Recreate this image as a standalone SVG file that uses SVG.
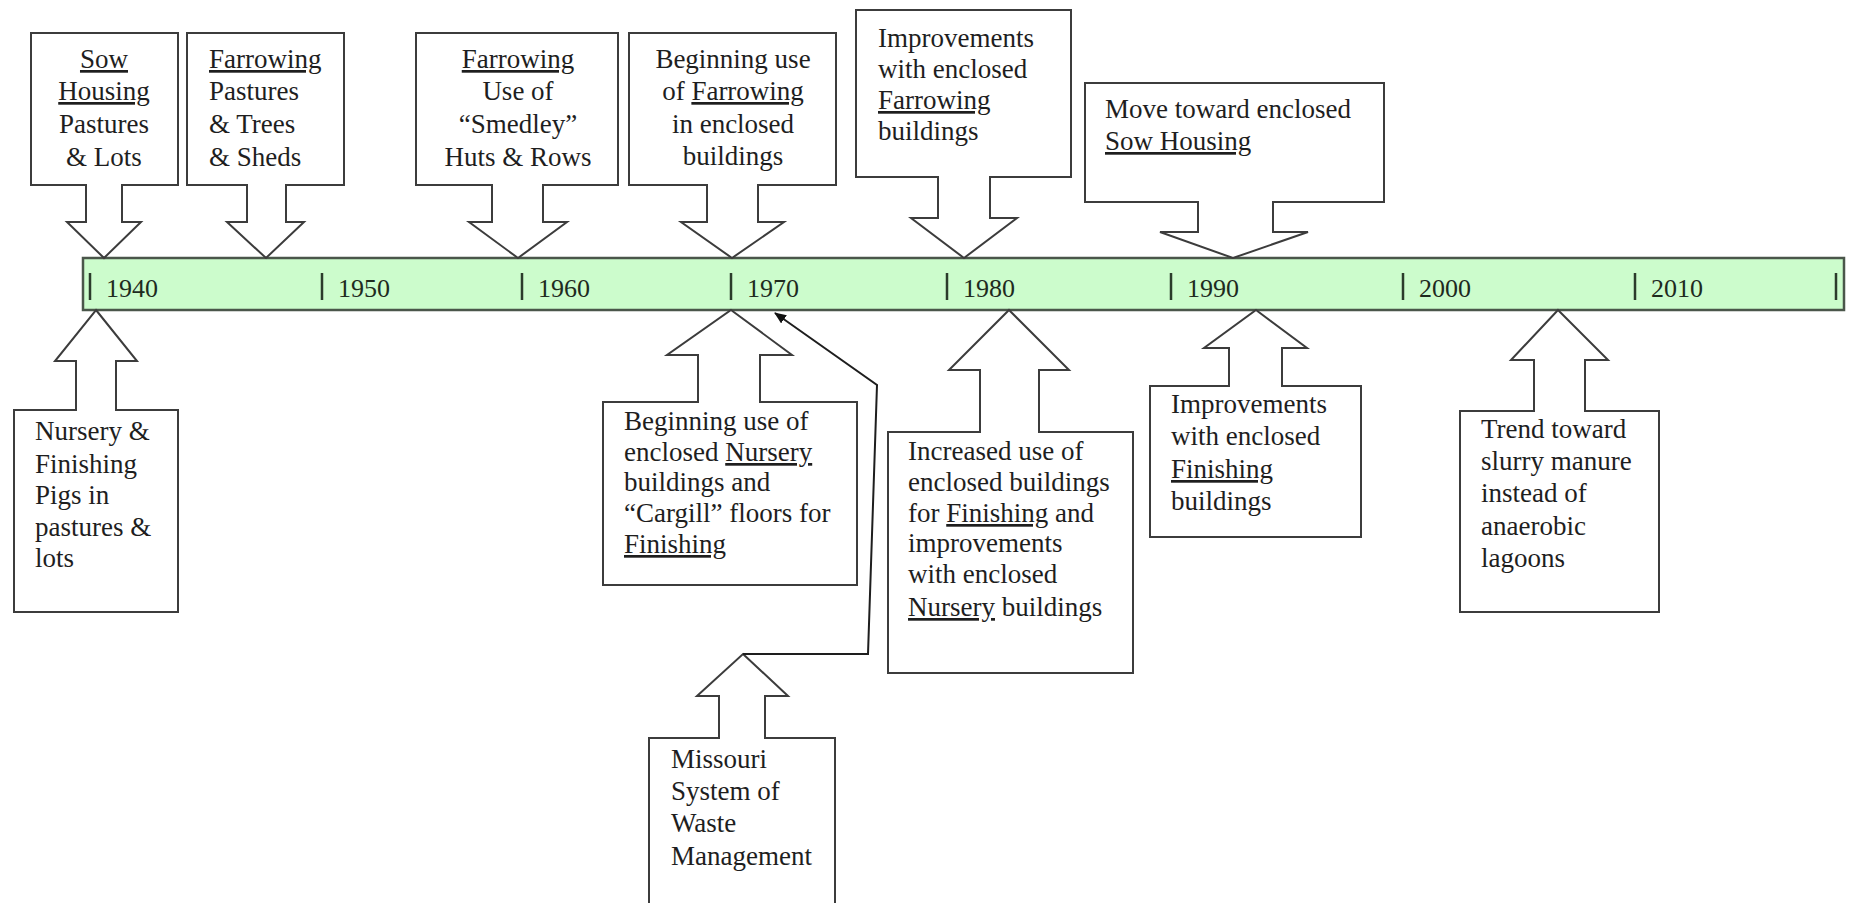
<svg xmlns="http://www.w3.org/2000/svg" width="1850" height="903" viewBox="0 0 1850 903">
<defs>
<style>
.bar{fill:#ccfccc;stroke:#4a564a;stroke-width:2.5}
.tick{stroke:#2b3b2b;stroke-width:2.5}
.yr{font-family:"Liberation Serif","Times New Roman",serif;font-size:26px;fill:#1e2a1e}
.co{fill:#ffffff;stroke:#3c3c3c;stroke-width:2;stroke-linejoin:miter}
.t{font-family:"Liberation Serif","Times New Roman",serif;font-size:27px;fill:#1e1e1e}
.c{text-anchor:middle}
.u{text-decoration:underline}
.conn{fill:none;stroke:#1e1e1e;stroke-width:2}
</style>
<marker id="ah" viewBox="0 0 12 10" refX="11" refY="5" markerWidth="12" markerHeight="10" markerUnits="userSpaceOnUse" orient="auto">
<path d="M0,0 L12,5 L0,10 Z" fill="#111"/>
</marker>
</defs>
<rect width="1850" height="903" fill="#ffffff"/>

<g id="timeline">
<rect class="bar" x="83" y="258" width="1761" height="52"/>
<g class="tick">
<line x1="90" y1="273" x2="90" y2="300"/>
<line x1="322" y1="273" x2="322" y2="300"/>
<line x1="522" y1="273" x2="522" y2="300"/>
<line x1="731" y1="273" x2="731" y2="300"/>
<line x1="947" y1="273" x2="947" y2="300"/>
<line x1="1171" y1="273" x2="1171" y2="300"/>
<line x1="1403" y1="273" x2="1403" y2="300"/>
<line x1="1635" y1="273" x2="1635" y2="300"/>
<line x1="1836" y1="273" x2="1836" y2="300"/>
</g>
<text class="yr" x="106" y="297">1940</text>
<text class="yr" x="338" y="297">1950</text>
<text class="yr" x="538" y="297">1960</text>
<text class="yr" x="747" y="297">1970</text>
<text class="yr" x="963" y="297">1980</text>
<text class="yr" x="1187" y="297">1990</text>
<text class="yr" x="1419" y="297">2000</text>
<text class="yr" x="1651" y="297">2010</text>
</g>

<g id="sow-housing">
<path class="co" d="M31 33 H178 V185 H122 V222 H141 L104 258 L67 222 H86 V185 H31 Z"/>
<text class="t c" x="104" y="68"><tspan class="u">Sow</tspan></text>
<text class="t c" x="104" y="100"><tspan class="u">Housing</tspan></text>
<text class="t c" x="104" y="133">Pastures</text>
<text class="t c" x="104" y="166">&amp; Lots</text>
</g>

<g id="farrowing-pastures">
<path class="co" d="M187 33 H344 V185 H286 V222 H304 L266 258 L227 222 H247 V185 H187 Z"/>
<text class="t" x="209" y="68"><tspan class="u">Farrowing</tspan></text>
<text class="t" x="209" y="100">Pastures</text>
<text class="t" x="209" y="133">&amp; Trees</text>
<text class="t" x="209" y="166">&amp; Sheds</text>
</g>

<g id="farrowing-smedley">
<path class="co" d="M416 33 H618 V185 H543 V222 H567 L518 258 L469 222 H492 V185 H416 Z"/>
<text class="t c" x="518" y="68"><tspan class="u">Farrowing</tspan></text>
<text class="t c" x="518" y="100">Use of</text>
<text class="t c" x="518" y="133">“Smedley”</text>
<text class="t c" x="518" y="166">Huts &amp; Rows</text>
</g>

<g id="farrowing-enclosed">
<path class="co" d="M629 33 H836 V185 H758 V222 H784 L732 258 L681 222 H707 V185 H629 Z"/>
<text class="t c" x="733" y="68">Beginning use</text>
<text class="t c" x="733" y="100">of <tspan class="u">Farrowing</tspan></text>
<text class="t c" x="733" y="133">in enclosed</text>
<text class="t c" x="733" y="165">buildings</text>
</g>

<g id="farrowing-improvements">
<path class="co" d="M856 10 H1071 V177 H990 V218 H1017 L964 258 L911 218 H938 V177 H856 Z"/>
<text class="t" x="878" y="47">Improvements</text>
<text class="t" x="878" y="78">with enclosed</text>
<text class="t" x="878" y="109"><tspan class="u">Farrowing</tspan></text>
<text class="t" x="878" y="140">buildings</text>
</g>

<g id="sow-enclosed">
<path class="co" d="M1085 83 H1384 V202 H1273 V232 H1308 L1233 258 L1160 232 H1198 V202 H1085 Z"/>
<text class="t" x="1105" y="118">Move toward enclosed</text>
<text class="t" x="1105" y="150"><tspan class="u">Sow Housing</tspan></text>
</g>

<g id="nursery-pastures">
<path class="co" d="M96 310 L137 361 H116 V410 H178 V612 H14 V410 H76 V361 H55 Z"/>
<text class="t" x="35" y="440">Nursery &amp;</text>
<text class="t" x="35" y="473">Finishing</text>
<text class="t" x="35" y="504">Pigs in</text>
<text class="t" x="35" y="536">pastures &amp;</text>
<text class="t" x="35" y="567">lots</text>
</g>

<g id="nursery-enclosed">
<path class="co" d="M731 310 L792 355 H760 V402 H857 V585 H603 V402 H698 V355 H667 Z"/>
<text class="t" x="624" y="430">Beginning use of</text>
<text class="t" x="624" y="461">enclosed <tspan class="u">Nursery</tspan></text>
<text class="t" x="624" y="491">buildings and</text>
<text class="t" x="624" y="522">“Cargill” floors for</text>
<text class="t" x="624" y="553"><tspan class="u">Finishing</tspan></text>
</g>

<g id="finishing-increased">
<path class="co" d="M1009 310 L1069 370 H1039 V432 H1133 V673 H888 V432 H980 V370 H949 Z"/>
<text class="t" x="908" y="460">Increased use of</text>
<text class="t" x="908" y="491">enclosed buildings</text>
<text class="t" x="908" y="522">for <tspan class="u">Finishing</tspan> and</text>
<text class="t" x="908" y="552">improvements</text>
<text class="t" x="908" y="583">with enclosed</text>
<text class="t" x="908" y="616"><tspan class="u">Nursery</tspan> buildings</text>
</g>

<g id="finishing-improvements">
<path class="co" d="M1256 310 L1307 348 H1282 V386 H1361 V537 H1150 V386 H1229 V348 H1204 Z"/>
<text class="t" x="1171" y="413">Improvements</text>
<text class="t" x="1171" y="445">with enclosed</text>
<text class="t" x="1171" y="478"><tspan class="u">Finishing</tspan></text>
<text class="t" x="1171" y="510">buildings</text>
</g>

<g id="slurry-trend">
<path class="co" d="M1558 310 L1608 360 H1585 V411 H1659 V612 H1460 V411 H1534 V360 H1511 Z"/>
<text class="t" x="1481" y="438">Trend toward</text>
<text class="t" x="1481" y="470">slurry manure</text>
<text class="t" x="1481" y="502">instead of</text>
<text class="t" x="1481" y="535">anaerobic</text>
<text class="t" x="1481" y="567">lagoons</text>
</g>

<g id="missouri-system">
<path class="co" d="M743 654 L788 696 H765 V738 H835 V912 H649 V738 H719 V696 H697 Z"/>
<text class="t" x="671" y="768">Missouri</text>
<text class="t" x="671" y="800">System of</text>
<text class="t" x="671" y="832">Waste</text>
<text class="t" x="671" y="865">Management</text>
</g>

<g id="connectors">
<polyline class="conn" points="743,654 868,654 877,385 775,313" marker-end="url(#ah)"/>
</g>
</svg>
